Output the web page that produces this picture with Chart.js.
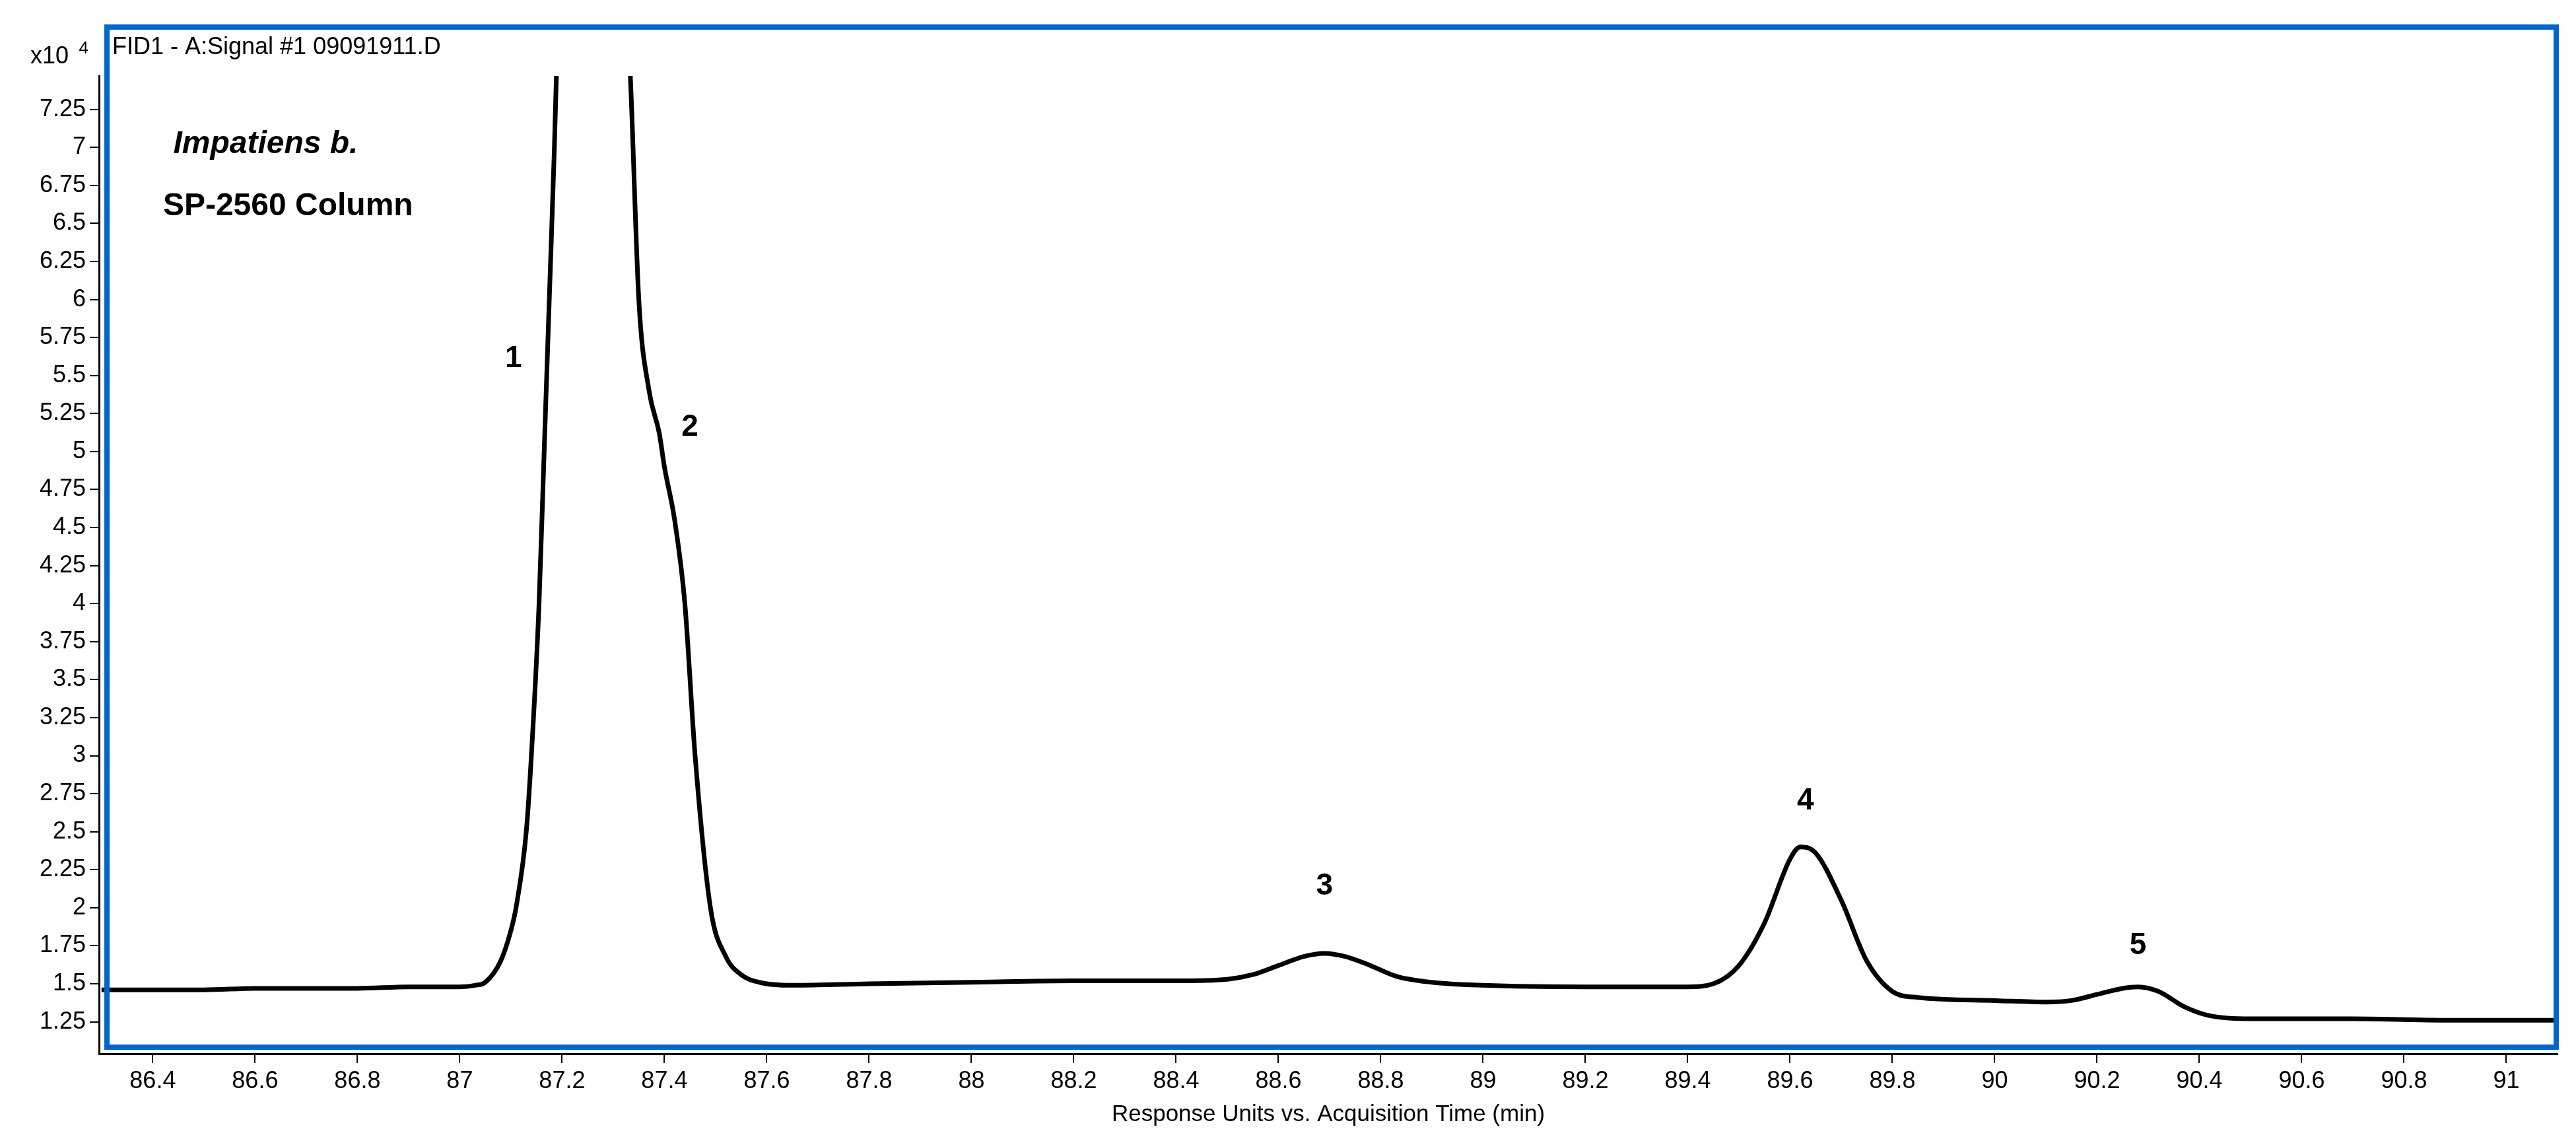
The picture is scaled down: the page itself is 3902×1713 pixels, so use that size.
<!DOCTYPE html>
<html><head><meta charset="utf-8">
<script src="https://cdn.jsdelivr.net/npm/chart.js@4/dist/chart.umd.min.js"></script>
<style>html,body{margin:0;padding:0;background:#fff}#w{width:3902px;height:1713px}</style>
</head><body><div id="w"><canvas id="c"></canvas></div>
<script>
const times = [86.30,86.40,86.50,86.60,86.70,86.80,86.90,87.00,87.03,87.05,87.08,87.10,87.11,87.13,87.14,87.155,87.165,87.175,87.185,87.19,87.21,87.24,87.27,87.30,87.32,87.333,87.35,87.37,87.39,87.40,87.42,87.44,87.46,87.49,87.52,87.55,87.585,87.65,87.8,88.0,88.2,88.4,88.5,88.55,88.6,88.65,88.69,88.73,88.78,88.83,88.9,89.0,89.2,89.4,89.45,89.5,89.55,89.6,89.62,89.65,89.7,89.75,89.8,89.85,90.0,90.1,90.15,90.2,90.25,90.28,90.32,90.37,90.42,90.5,90.7,90.9,91.1];
const signal = [1.46,1.46,1.46,1.47,1.47,1.47,1.48,1.48,1.49,1.51,1.65,1.85,2.0,2.5,3.0,4.0,5.0,6.0,7.0,7.6,8.8,9.8,10.0,9.4,8.2,7.5,6.0,5.4,5.12,4.9,4.55,4.0,3.0,2.0,1.68,1.56,1.51,1.49,1.50,1.51,1.52,1.52,1.53,1.56,1.62,1.68,1.70,1.68,1.62,1.55,1.51,1.49,1.48,1.48,1.50,1.62,1.90,2.32,2.40,2.36,2.05,1.65,1.45,1.41,1.39,1.38,1.39,1.43,1.47,1.48,1.45,1.35,1.29,1.27,1.27,1.26,1.26];
const xTicks = [86.4,86.6,86.8,87,87.2,87.4,87.6,87.8,88,88.2,88.4,88.6,88.8,89,89.2,89.4,89.6,89.8,90,90.2,90.4,90.6,90.8,91];
const yTicks = [1.25,1.5,1.75,2,2.25,2.5,2.75,3,3.25,3.5,3.75,4,4.25,4.5,4.75,5,5.25,5.5,5.75,6,6.25,6.5,6.75,7,7.25];
const peakLabels = ["1","2","3","4","5"];
const peakX = [87.105,87.45,88.69,89.63,90.28];
const peakY = [5.61,5.16,2.14,2.70,1.75];
const titleText = "FID1 - A:Signal #1 09091911.D";
const noteTexts = ["Impatiens b.","SP-2560 Column"];
const noteX = [86.44,86.42];
const noteY = [7.02,6.61];
const FONT = "'Liberation Sans Narrow','Liberation Sans',Arial,sans-serif";

const overlay = {
  id:'overlay',
  afterDraw(ch){
    const {ctx, chartArea:a, scales:{x,y}} = ch;
    ctx.save();
    ctx.strokeStyle='#0066cc'; ctx.lineWidth=8;
    ctx.strokeRect(a.left+12, 41, 3872-(a.left+12), a.bottom-10-41);
    ctx.fillStyle='#000'; ctx.textBaseline='middle';
    ctx.font="36px "+FONT; ctx.textAlign='left';
    ctx.fillText(titleText, a.left+20, 72);
    ctx.textAlign='right'; ctx.fillText("x10", 104, 86);
    ctx.font="26px "+FONT; ctx.fillText("4", 134, 74);
    ctx.textAlign='left';
    ctx.font="italic bold 48px 'Liberation Sans',Arial,sans-serif";
    ctx.fillText(noteTexts[0], x.getPixelForValue(noteX[0]), y.getPixelForValue(noteY[0]));
    ctx.font="bold 48px 'Liberation Sans',Arial,sans-serif";
    ctx.fillText(noteTexts[1], x.getPixelForValue(noteX[1]), y.getPixelForValue(noteY[1]));
    ctx.textAlign='center';
    ctx.font="bold 46px 'Liberation Sans',Arial,sans-serif";
    peakLabels.forEach((t,i)=>ctx.fillText(t, x.getPixelForValue(peakX[i]), y.getPixelForValue(peakY[i])));
    ctx.restore();
  }
};

new Chart(document.getElementById('c'), {
  type:'line',
  data:{datasets:[{data:times.map((t,i)=>({x:t,y:signal[i]})), borderColor:'#000', borderWidth:7, pointRadius:0, cubicInterpolationMode:'monotone', fill:false}]},
  options:{
    responsive:true, maintainAspectRatio:false, animation:false,
    layout:{padding:{top:115,right:28,left:0,bottom:0}},
    plugins:{legend:{display:false},tooltip:{enabled:false}},
    scales:{
      x:{type:'linear', min:86.295, max:91.1,
        afterBuildTicks(s){s.ticks=xTicks.map(v=>({value:v}));},
        afterFit(s){s.height=117;},
        ticks:{color:'#000', font:{size:36,family:FONT}, padding:6, maxRotation:0, autoSkip:false, callback:v=>String(v)},
        grid:{drawOnChartArea:false, drawTicks:true, tickLength:14, color:'#000', lineWidth:2},
        border:{display:true,color:'#000',width:3},
        title:{display:true,text:'Response Units vs. Acquisition Time (min)',color:'#000',font:{size:35,family:FONT},padding:{top:0,bottom:4}}
      },
      y:{type:'linear', min:1.04, max:7.47,
        afterBuildTicks(s){s.ticks=yTicks.map(v=>({value:v}));},
        afterFit(s){s.width=150;},
        ticks:{color:'#000', font:{size:36,family:FONT}, padding:6, autoSkip:false, callback:v=>String(v)},
        grid:{drawOnChartArea:false, drawTicks:true, tickLength:14, color:'#000', lineWidth:2},
        border:{display:true,color:'#000',width:3}
      }
    }
  },
  plugins:[overlay]
});
</script></body></html>
